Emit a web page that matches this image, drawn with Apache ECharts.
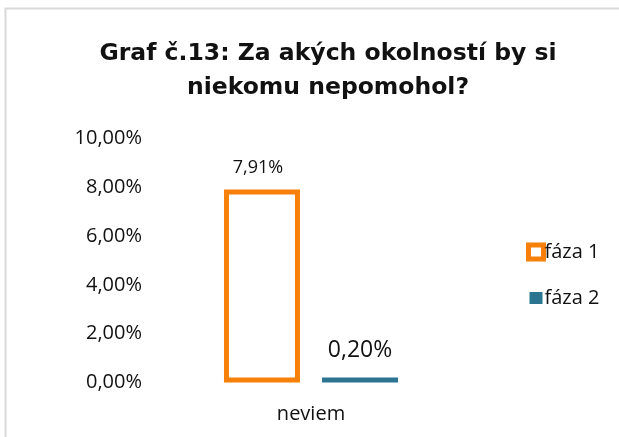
<!DOCTYPE html>
<html>
<head>
<meta charset="utf-8">
<script src="https://cdn.jsdelivr.net/npm/echarts@6/dist/echarts.min.js"></script>
<style>
  html, body { margin: 0; padding: 0; background: #fff; }
  #chart { width: 619px; height: 437px; }
</style>
</head>
<body>
<div id="chart"></div>
<script>
// Graf č.13 - data
const categories = ['neviem'];
const seriesNames = ['fáza 1', 'fáza 2'];
const faza1 = [7.91];
const faza2 = [0.20];
const yMin = 0, yMax = 10, yStep = 2;

const ORANGE = '#F7800B';
const TEAL = '#2C7591';
const FONT = 'Open Sans';

const fmtPct = v => v.toFixed(2).replace('.', ',') + '%';

const chart = echarts.init(document.getElementById('chart'));

chart.setOption({
  animation: false,
  backgroundColor: '#fff',
  graphic: [{
    type: 'rect',
    shape: { x: 5.5, y: 8.5, width: 700, height: 500 },
    style: { fill: 'none', stroke: '#d9d9d9', lineWidth: 2 },
    silent: true,
  }],
  title: {
    text: 'Graf č.13: Za akých okolností by si\nniekomu nepomohol?',
    left: 323, top: 32, textAlign: 'center',
    textStyle: { fontFamily: 'DejaVu Sans', fontWeight: 'bold', fontSize: 23.5, lineHeight: 34, color: '#111' },
  },
  legend: {
    orient: 'vertical',
    left: 521, top: 237,
    itemGap: 26,
    itemWidth: 15, itemHeight: 14,
    textStyle: { fontFamily: FONT, fontSize: 20, color: '#111', padding: [0, 0, 0, -4] },
    data: [
      { name: seriesNames[0], icon: 'rect', itemStyle: { color: '#fff', borderColor: ORANGE, borderWidth: 5 } },
      { name: seriesNames[1], icon: 'rect', itemStyle: { color: TEAL, borderColor: '#fff', borderWidth: 2 } },
    ],
  },
  grid: { left: 150, right: 147, top: 138.5, bottom: 54.5 },
  xAxis: {
    type: 'category',
    data: categories,
    axisLine: { show: false },
    axisTick: { show: false },
    axisLabel: { fontFamily: FONT, fontSize: 20, color: '#111', margin: 22 },
  },
  yAxis: {
    type: 'value',
    min: yMin, max: yMax, interval: yStep,
    axisLine: { show: false },
    axisTick: { show: false },
    splitLine: { show: false },
    axisLabel: { fontFamily: FONT, fontSize: 20, color: '#111', margin: 8, formatter: fmtPct },
  },
  series: [
    {
      name: seriesNames[0], type: 'bar', data: faza1,
      barWidth: 76, barGap: '29%',
      itemStyle: { color: '#fff', borderColor: ORANGE, borderWidth: 5 },
      label: { show: true, position: 'top', distance: 13, offset: [-4, 0], fontFamily: FONT, fontSize: 18, color: '#111', formatter: p => fmtPct(p.value) },
    },
    {
      name: seriesNames[1], type: 'bar', data: faza2,
      barWidth: 76,
      itemStyle: { color: TEAL },
      label: { show: true, position: 'top', distance: 16, fontFamily: FONT, fontSize: 23, color: '#111', formatter: p => fmtPct(p.value) },
    },
  ],
});
</script>
</body>
</html>
